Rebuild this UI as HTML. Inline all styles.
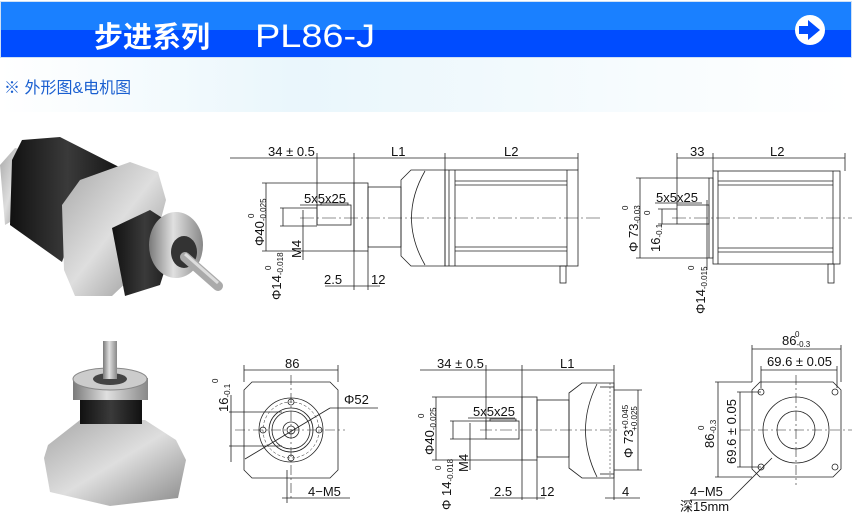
<!DOCTYPE html>
<html><head><meta charset="utf-8"><style>
html,body{margin:0;padding:0;background:#fff}
svg{display:block}
text{font-family:"Liberation Sans","Noto Sans CJK SC",sans-serif;fill:#111}
</style></head><body>
<svg width="852" height="514" viewBox="0 0 852 514" xmlns="http://www.w3.org/2000/svg">
<defs>
<linearGradient id="bg" x1="0" y1="0" x2="1" y2="0">
<stop offset="0" stop-color="#fff"/><stop offset="0.35" stop-color="#e4f4fb"/><stop offset="1" stop-color="#fff"/></linearGradient>
<linearGradient id="sil" x1="0" y1="0" x2="1" y2="1">
<stop offset="0" stop-color="#a8a8a8"/><stop offset="0.5" stop-color="#dedede"/><stop offset="1" stop-color="#8a8a8a"/></linearGradient>
<linearGradient id="sil2" x1="0" y1="0" x2="1" y2="0">
<stop offset="0" stop-color="#7a7a7a"/><stop offset="0.45" stop-color="#e0e0e0"/><stop offset="1" stop-color="#888"/></linearGradient>
<linearGradient id="blk" x1="0" y1="0" x2="1" y2="0">
<stop offset="0" stop-color="#111"/><stop offset="0.5" stop-color="#3a3a3a"/><stop offset="1" stop-color="#111"/></linearGradient>
</defs>
<rect width="852" height="514" fill="#fff"/>
<polygon points="0,58 852,58 852,112 0,112" fill="url(#bg)" opacity="0.8"/>
<!-- header -->
<rect x="0" y="1" width="852" height="57" fill="#cfe0f5"/>
<rect x="1" y="2" width="850" height="28" fill="#1a80ff"/>
<rect x="1" y="30" width="850" height="27" fill="#004cff"/>
<text x="94" y="47" font-size="29" font-weight="bold" style="fill:#fff">步进系列</text>
<text x="255" y="47" font-size="32" style="fill:#fff" textLength="120" lengthAdjust="spacingAndGlyphs">PL86-J</text>
<circle cx="810" cy="30" r="15" fill="#fff"/>
<polygon points="799,26 808,26 808,20 820,30 808,40 808,34 799,34" fill="#004cff"/>
<text x="4" y="93" font-size="16" style="fill:#1a5fd0">※ 外形图&amp;电机图</text>

<!-- photo top -->
<polygon points="0,165 15,148 25,150 22,215 5,225" fill="url(#sil)"/>
<polygon points="12,160 22,140 60,137 125,170 75,225 62,262 10,225" fill="url(#blk)"/>
<polygon points="62,205 80,180 130,162 158,172 166,200 150,260 112,296 75,296 64,270" fill="url(#sil)"/>
<polygon points="112,228 150,210 178,228 160,285 125,296" fill="url(#blk)"/>
<ellipse cx="176" cy="245" rx="27" ry="33" fill="url(#sil2)"/>
<ellipse cx="184" cy="252" rx="13" ry="16" fill="#333"/>
<line x1="185" y1="257" x2="218" y2="286" stroke="#aaa" stroke-width="10" stroke-linecap="round"/>
<line x1="185" y1="254" x2="218" y2="283" stroke="#ddd" stroke-width="3"/>
<!-- photo bottom -->
<polygon points="48,445 80,420 145,420 176,440 186,460 178,498 110,506 50,492 44,458" fill="url(#sil)"/>
<rect x="80" y="398" width="62" height="26" fill="url(#blk)"/>
<rect x="73" y="378" width="75" height="22" fill="url(#sil2)"/>
<ellipse cx="110" cy="379" rx="37" ry="11" fill="#ccc" stroke="#888"/>
<ellipse cx="110" cy="379" rx="17" ry="6" fill="#444"/>
<rect x="103" y="341" width="14" height="38" fill="url(#sil2)"/>

<g stroke="#222" stroke-width="0.8" fill="none">
<!-- top middle drawing -->
<line x1="230" y1="158" x2="578" y2="158"/>
<line x1="317" y1="153" x2="317" y2="225"/><line x1="354" y1="153" x2="354" y2="290"/>
<line x1="445" y1="153" x2="445" y2="170"/><line x1="578" y1="153" x2="578" y2="170"/>
<rect x="354" y="183" width="14" height="68"/>
<rect x="368" y="187" width="33" height="60"/>
<polygon points="401,180 411,170 445,170 445,266 411,266 401,256"/>
<path d="M425,171 Q398,218 425,265"/>
<rect x="445" y="170" width="133" height="96"/>
<line x1="449" y1="170" x2="449" y2="266"/><line x1="455" y1="170" x2="455" y2="266"/>
<line x1="567" y1="170" x2="567" y2="266"/>
<line x1="455" y1="181" x2="567" y2="181"/><line x1="455" y1="185" x2="567" y2="185"/>
<line x1="455" y1="247" x2="567" y2="247"/><line x1="455" y1="251" x2="567" y2="251"/>
<rect x="317" y="205" width="34" height="20"/><rect x="321" y="203" width="27" height="2"/>
<rect x="560" y="266" width="6" height="17"/>
<line x1="300" y1="218" x2="600" y2="218" stroke-dasharray="14,3,2,3" stroke-width="0.6"/>
<line x1="262" y1="183" x2="354" y2="183"/><line x1="262" y1="251" x2="354" y2="251"/>
<line x1="266" y1="183" x2="266" y2="251"/>
<line x1="280" y1="208" x2="317" y2="208"/><line x1="280" y1="226" x2="317" y2="226"/><line x1="283" y1="208" x2="283" y2="226"/>
<line x1="303" y1="210" x2="303" y2="260"/>
<line x1="300" y1="205" x2="345" y2="205"/>
<line x1="325" y1="286" x2="380" y2="286"/><line x1="368" y1="251" x2="368" y2="290"/>
<!-- top right -->
<line x1="677" y1="158" x2="845" y2="158"/>
<line x1="677" y1="153" x2="677" y2="205"/><line x1="713" y1="153" x2="713" y2="171"/><line x1="845" y1="153" x2="845" y2="171"/>
<rect x="713" y="171" width="127" height="93"/>
<line x1="718" y1="171" x2="718" y2="264"/><line x1="833" y1="171" x2="833" y2="264"/>
<line x1="718" y1="181" x2="833" y2="181"/><line x1="718" y1="185" x2="833" y2="185"/>
<line x1="718" y1="248" x2="833" y2="248"/><line x1="718" y1="252" x2="833" y2="252"/>
<rect x="709" y="178" width="4" height="80"/>
<rect x="677" y="205" width="32" height="19"/>
<rect x="828" y="264" width="6" height="19"/>
<line x1="672" y1="218" x2="852" y2="218" stroke-dasharray="14,3,2,3" stroke-width="0.6"/>
<line x1="636" y1="178" x2="709" y2="178"/><line x1="636" y1="258" x2="709" y2="258"/><line x1="640" y1="178" x2="640" y2="258"/>
<line x1="658" y1="209" x2="677" y2="209"/><line x1="658" y1="224" x2="677" y2="224"/><line x1="662" y1="209" x2="662" y2="224"/>
<line x1="707" y1="200" x2="707" y2="270"/>
<line x1="655" y1="203" x2="702" y2="203"/>
<!-- bottom left front view -->
<line x1="244" y1="370" x2="338" y2="370"/>
<line x1="244" y1="365" x2="244" y2="382"/><line x1="338" y1="365" x2="338" y2="382"/>
<polygon points="252,382 330,382 338,390 338,470 330,478 252,478 244,470 244,390"/>
<circle cx="291" cy="430" r="32"/><circle cx="291" cy="430" r="28" stroke-dasharray="3,2" stroke-width="0.5"/>
<circle cx="291" cy="430" r="22"/><circle cx="291" cy="430" r="19"/>
<circle cx="291" cy="430" r="8"/><circle cx="291" cy="430" r="4"/>
<circle cx="291" cy="402" r="3"/><circle cx="291" cy="458" r="3"/><circle cx="263" cy="430" r="3"/><circle cx="319" cy="430" r="3"/>
<line x1="235" y1="430" x2="345" y2="430" stroke-dasharray="10,3,2,3" stroke-width="0.6"/>
<line x1="291" y1="375" x2="291" y2="500" stroke-dasharray="10,3,2,3" stroke-width="0.6"/>
<line x1="245" y1="459" x2="330" y2="408"/><line x1="330" y1="408" x2="378" y2="408"/>
<line x1="229" y1="412" x2="282" y2="412"/><line x1="229" y1="446" x2="282" y2="446"/><line x1="231" y1="395" x2="231" y2="462"/>
<line x1="282" y1="498" x2="350" y2="498"/><line x1="287" y1="470" x2="287" y2="503"/>
<!-- bottom middle -->
<line x1="420" y1="370" x2="614" y2="370"/>
<line x1="486" y1="365" x2="486" y2="430"/><line x1="522" y1="365" x2="522" y2="500"/><line x1="614" y1="365" x2="614" y2="500"/>
<line x1="537" y1="460" x2="537" y2="500"/>
<rect x="522" y="397" width="15" height="63"/>
<rect x="537" y="400" width="32" height="57"/>
<polygon points="569,393 582,383 614,383 614,478 582,478 569,468"/>
<path d="M597,384 Q574,430 597,477"/>
<line x1="600" y1="387" x2="614" y2="387"/><line x1="600" y1="474" x2="614" y2="474"/>
<line x1="610" y1="383" x2="610" y2="478" stroke-dasharray="2,2" stroke-width="0.5"/>
<rect x="486" y="421" width="33" height="18"/><rect x="490" y="419" width="26" height="2"/>
<line x1="480" y1="430" x2="620" y2="430" stroke-dasharray="12,3,2,3" stroke-width="0.6"/>
<line x1="432" y1="397" x2="522" y2="397"/><line x1="432" y1="460" x2="522" y2="460"/><line x1="436" y1="397" x2="436" y2="460"/>
<line x1="450" y1="421" x2="486" y2="421"/><line x1="450" y1="439" x2="486" y2="439"/><line x1="453" y1="421" x2="453" y2="439"/>
<line x1="470" y1="423" x2="470" y2="470"/>
<line x1="468" y1="418" x2="515" y2="418"/>
<line x1="490" y1="498" x2="545" y2="498"/>
<line x1="605" y1="498" x2="640" y2="498"/>
<line x1="614" y1="390" x2="642" y2="390"/><line x1="614" y1="470" x2="642" y2="470"/><line x1="638" y1="390" x2="638" y2="470"/>
<!-- bottom right -->
<line x1="752" y1="349" x2="841" y2="349"/>
<line x1="752" y1="345" x2="752" y2="382"/><line x1="841" y1="345" x2="841" y2="382"/>
<line x1="761" y1="370" x2="837" y2="370"/>
<line x1="761" y1="366" x2="761" y2="388"/><line x1="837" y1="366" x2="837" y2="388"/>
<polygon points="760,382 833,382 841,390 841,469 833,477 760,477 752,469 752,390"/>
<circle cx="796" cy="430" r="33"/><circle cx="796" cy="430" r="19"/>
<line x1="740" y1="430" x2="852" y2="430" stroke-dasharray="10,3,2,3" stroke-width="0.6"/>
<line x1="796" y1="375" x2="796" y2="485" stroke-dasharray="10,3,2,3" stroke-width="0.6"/>
<circle cx="761" cy="392" r="3"/><circle cx="835" cy="392" r="3"/><circle cx="761" cy="467" r="3"/><circle cx="835" cy="467" r="3"/>
<line x1="715" y1="382" x2="752" y2="382"/><line x1="715" y1="477" x2="752" y2="477"/><line x1="718" y1="382" x2="718" y2="477"/>
<line x1="737" y1="392" x2="761" y2="392"/><line x1="737" y1="467" x2="761" y2="467"/><line x1="740" y1="392" x2="740" y2="467"/>
<line x1="690" y1="500" x2="730" y2="500"/><line x1="730" y1="500" x2="772" y2="458"/>
</g>
<g font-size="13">
<text x="268" y="156">34 ± 0.5</text><text x="391" y="156">L1</text><text x="504" y="156">L2</text>
<text x="304" y="203">5x5x25</text>
<text x="324" y="284">2.5</text><text x="371" y="284">12</text>
<text x="690" y="156">33</text><text x="770" y="156">L2</text>
<text x="656" y="202">5x5x25</text>
<text x="285" y="368">86</text><text x="344" y="404">Φ52</text><text x="308" y="496">4−M5</text>
<text x="437" y="368">34 ± 0.5</text><text x="560" y="368">L1</text>
<text x="473" y="416">5x5x25</text>
<text x="494" y="496">2.5</text><text x="540" y="496">12</text><text x="622" y="496">4</text>
<text x="782" y="345">86<tspan font-size="8" dy="2">-0.3</tspan></text>
<text x="795" y="337" font-size="8">0</text>
<text x="767" y="366">69.6 ± 0.05</text>
<text x="690" y="496">4−M5</text><text x="680" y="511">深15mm</text>
</g>
<g font-size="13">
<text transform="translate(264,246) rotate(-90)">Φ40<tspan font-size="8" dy="2">-0.025</tspan></text>
<text transform="translate(254,218) rotate(-90)" font-size="8">0</text>
<text transform="translate(281,300) rotate(-90)">Φ14<tspan font-size="8" dy="2">-0.018</tspan></text>
<text transform="translate(271,270) rotate(-90)" font-size="8">0</text>
<text transform="translate(301,258) rotate(-90)">M4</text>
<text transform="translate(638,252) rotate(-90)">Φ 73<tspan font-size="8" dy="2">-0.03</tspan></text>
<text transform="translate(628,210) rotate(-90)" font-size="8">0</text>
<text transform="translate(660,252) rotate(-90)">16<tspan font-size="8" dy="2">-0.1</tspan></text>
<text transform="translate(650,215) rotate(-90)" font-size="8">0</text>
<text transform="translate(705,314) rotate(-90)">Φ14<tspan font-size="8" dy="2">-0.015</tspan></text>
<text transform="translate(694,270) rotate(-90)" font-size="8">0</text>
<text transform="translate(228,412) rotate(-90)">16<tspan font-size="8" dy="2">-0.1</tspan></text>
<text transform="translate(218,383) rotate(-90)" font-size="8">0</text>
<text transform="translate(434,455) rotate(-90)">Φ40<tspan font-size="8" dy="2">-0.025</tspan></text>
<text transform="translate(424,418) rotate(-90)" font-size="8">0</text>
<text transform="translate(451,510) rotate(-90)">Φ 14<tspan font-size="8" dy="2">-0.018</tspan></text>
<text transform="translate(441,470) rotate(-90)" font-size="8">0</text>
<text transform="translate(468,472) rotate(-90)">M4</text>
<text transform="translate(633,458) rotate(-90)">Φ 73<tspan font-size="8" dy="-5">+0.045</tspan><tspan font-size="8" dx="-26" dy="9">+0.025</tspan></text>
<text transform="translate(714,448) rotate(-90)">86<tspan font-size="8" dy="2">-0.3</tspan></text>
<text transform="translate(704,430) rotate(-90)" font-size="8">0</text>
<text transform="translate(736,464) rotate(-90)">69.6 ± 0.05</text>
</g>
</svg>
</body></html>
